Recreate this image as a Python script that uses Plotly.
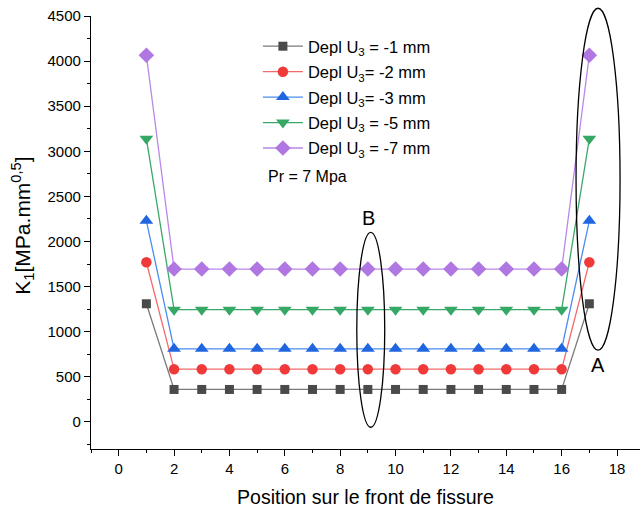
import plotly.graph_objects as go

# Positions along the crack front
positions = [1, 2, 3, 4, 5, 6, 7, 8, 9, 10, 11, 12, 13, 14, 15, 16, 17]

# Stress intensity factor K1 for each imposed displacement U3
k1_u3_1 = [1310, 360, 360, 360, 360, 360, 360, 360, 360, 360, 360, 360, 360, 360, 360, 360, 1310]
k1_u3_2 = [1770, 585, 585, 585, 585, 585, 585, 585, 585, 585, 585, 585, 585, 585, 585, 585, 1770]
k1_u3_3 = [2230, 810, 810, 810, 810, 810, 810, 810, 810, 810, 810, 810, 810, 810, 810, 810, 2230]
k1_u3_5 = [3140, 1245, 1245, 1245, 1245, 1245, 1245, 1245, 1245, 1245, 1245, 1245, 1245, 1245, 1245, 1245, 3140]
k1_u3_7 = [4065, 1695, 1695, 1695, 1695, 1695, 1695, 1695, 1695, 1695, 1695, 1695, 1695, 1695, 1695, 1695, 4065]

series_names = [
    "Depl U<sub>3</sub> = -1 mm",
    "Depl U<sub>3</sub>= -2 mm",
    "Depl U<sub>3</sub>= -3 mm",
    "Depl U<sub>3</sub> = -5 mm",
    "Depl U<sub>3</sub> = -7 mm",
]
series_values = [k1_u3_1, k1_u3_2, k1_u3_3, k1_u3_5, k1_u3_7]
marker_colors = ["#4a4a4a", "#f03a3a", "#1f66e0", "#36a865", "#b077e3"]
line_colors = ["#7a7a7a", "#f46a6a", "#4a8cf0", "#3aa86a", "#b987e8"]
symbols = ["square", "circle", "triangle-up", "triangle-down", "diamond"]
marker_sizes = [9, 10.5, 12, 12, 12]

X_RANGE = [-1, 18.83]
Y_RANGE = [-300, 4500]

FONT = "Arial, Liberation Sans, sans-serif"

fig = go.Figure()
for i, (name, vals) in enumerate(zip(series_names, series_values)):
    fig.add_trace(go.Scatter(
        x=positions, y=vals, name=name, mode="lines+markers",
        legendgroup=f"g{i}",
        line=dict(color=line_colors[i], width=1.3),
        marker=dict(symbol=symbols[i], size=marker_sizes[i], color=marker_colors[i],
                    line=dict(width=0)),
    ))


def px(v):
    return (v - X_RANGE[0]) / (X_RANGE[1] - X_RANGE[0])


def py(v):
    return (v - Y_RANGE[0]) / (Y_RANGE[1] - Y_RANGE[0])


# Highlighted regions: A (crack-front ends) and B (mid-front)
fig.add_shape(type="circle", xref="paper", yref="paper",
              x0=px(16.52), x1=px(18.11), y0=py(795), y1=py(4586),
              line=dict(color="black", width=1.3))
fig.add_shape(type="circle", xref="paper", yref="paper",
              x0=px(8.60), x1=px(9.61), y0=py(-59), y1=py(2101),
              line=dict(color="black", width=1.3))

fig.add_annotation(x=17.31, y=629, text="A", showarrow=False,
                   font=dict(family=FONT, size=20, color="black"))
fig.add_annotation(x=9.04, y=2258, text="B", showarrow=False,
                   font=dict(family=FONT, size=20, color="black"))
fig.add_annotation(xref="paper", yref="paper", x=px(5.32), y=py(2724),
                   xanchor="left", yanchor="middle", text="Pr = 7 Mpa",
                   showarrow=False, font=dict(family=FONT, size=16, color="black"))

# Y axis title, set as a rotated label left of the tick labels
fig.add_annotation(xref="paper", yref="paper", x=-0.124, y=py(2175),
                   xanchor="center", yanchor="middle", textangle=-90,
                   text="K<sub>1</sub>[MPa.mm<sup>0,5</sup>]", showarrow=False,
                   font=dict(family=FONT, size=21, color="black"))

fig.update_layout(
    width=640, height=508,
    margin=dict(l=91, r=0, t=16, b=59),
    paper_bgcolor="white", plot_bgcolor="white",
    font=dict(family=FONT, size=15, color="black"),
    showlegend=True,
    legend=dict(x=0.304, y=0.970, xanchor="left", yanchor="top",
                bgcolor="rgba(0,0,0,0)", font=dict(family=FONT, size=16.5),
                itemwidth=40, tracegroupgap=1, traceorder="grouped"),
    xaxis=dict(
        range=X_RANGE, tickmode="linear", tick0=0, dtick=2,
        ticks="outside", ticklen=6, tickwidth=1.2, tickcolor="black",
        showline=True, linecolor="black", linewidth=1.3,
        showgrid=False, zeroline=False,
        minor=dict(ticks="outside", ticklen=3, dtick=1, tick0=0, tickcolor="black", tickwidth=1.2),
        title=dict(text="Position sur le front de fissure", font=dict(size=19.5), standoff=15),
        tickfont=dict(size=15),
    ),
    yaxis=dict(
        range=Y_RANGE, tickmode="linear", tick0=0, dtick=500,
        ticks="outside", ticklen=6, tickwidth=1.2, tickcolor="black",
        showline=True, linecolor="black", linewidth=1.3,
        showgrid=False, zeroline=False,
        minor=dict(ticks="outside", ticklen=3, dtick=250, tick0=0, tickcolor="black", tickwidth=1.2),
        tickfont=dict(size=15),
    ),
)

fig.write_html("out.html")
